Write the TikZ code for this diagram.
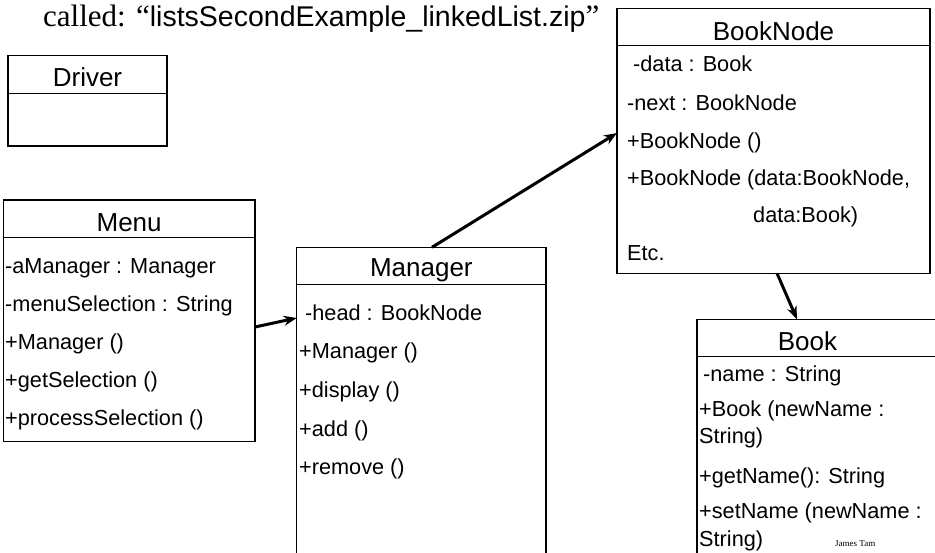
\documentclass[tikz,border=0pt]{standalone}
\usepackage{fontspec}
\setmainfont{Liberation Sans}
\newfontfamily\serifx{Liberation Serif}
\usetikzlibrary{arrows.meta}
\begin{document}
\begin{tikzpicture}[x=1pt,y=-1pt,
  cls/.style={draw, line width=1.1pt, inner sep=0, outer sep=0},
  ttl/.style={anchor=base, inner sep=0, font=\fontsize{26}{30}\selectfont},
  row/.style={anchor=base west, inner sep=0, font=\fontsize{21.7}{25}\selectfont},
  arr/.style={line width=3pt, -{Stealth[length=13pt,width=10pt]}},
  divl/.style={line width=1.1pt}
]
\useasboundingbox (0,0) rectangle (935,552);
\fill[white] (0,0) rectangle (935,552);

% title
\node[anchor=base west, inner sep=0, font=\fontsize{28.5}{34}\selectfont] (title) at (43,26)
  {{\serifx\fontsize{31}{36}\selectfont called: “}listsSecondExample\_linkedList.zip{\serifx\fontsize{31}{36}\selectfont ”}};

% boxes
\node[cls, minimum width=159pt, minimum height=90.3pt] (driver) at (87.5,100.85) {};
\node[cls, minimum width=251.7pt, minimum height=241.7pt] (menu) at (129.15,320.85) {};
\node[cls, minimum width=249.3pt, minimum height=312.7pt] (manager) at (421.35,403.65) {};
\node[cls, minimum width=313pt, minimum height=265pt] (booknode) at (773.5,140.8) {};
\node[cls, minimum width=253pt, minimum height=240.7pt] (book) at (823.5,439.65) {};

% dividers
\foreach \b in {driver,menu,manager,booknode,book}
  \draw[divl] ([yshift=-37.5pt]\b.north west) -- ([yshift=-37.5pt]\b.north east);

% titles
\node[ttl] (tdriver) at (87.5,86.7) {Driver};
\node[ttl] (tmenu) at (129.15,231.7) {Menu};
\node[ttl] (tmanager) at (421.35,276.7) {Manager};
\node[ttl] (tbooknode) at (773.5,40) {BookNode};
\node[ttl] (tbook) at (807.5,350) {Book};

% Menu rows
\node[row] (m1) at (5,273) {-aManager : Manager};
\node[row] (m2) at (5,311) {-menuSelection : String};
\node[row] (m3) at (5,349) {+Manager ()};
\node[row] (m4) at (5,387) {+getSelection ()};
\node[row] (m5) at (5,425) {+processSelection ()};

% Manager rows
\node[row] (g1) at (305,320) {-head : BookNode};
\node[row] (g2) at (299,358.7) {+Manager ()};
\node[row] (g3) at (299,397.4) {+display ()};
\node[row] (g4) at (299,436) {+add ()};
\node[row] (g5) at (299,474.8) {+remove ()};

% BookNode rows
\node[row] (b1) at (633,71.7) {-data : Book};
\node[row] (b2) at (627,110) {-next : BookNode};
\node[row] (b3) at (627,148) {+BookNode ()};
\node[row] (b4) at (627,185) {+BookNode (data:BookNode,};
\node[row] (b5) at (753,222) {data:Book)};
\node[row] (b6) at (627,260) {Etc.};

% Book rows
\node[row] (k1) at (703,381.7) {-name : String};
\node[row] (k2) at (699,416.7) {+Book (newName :};
\node[row] (k3) at (699,443.3) {String)};
\node[row] (k4) at (699,483) {+getName(): String};
\node[row] (k5) at (699,518) {+setName (newName :};
\node[row] (k6) at (699,546.7) {String)};

\node[anchor=base west, inner sep=0, font=\serifx\fontsize{9}{10}\selectfont] (author) at (835,546.7) {James Tam};

% connectors
\draw[arr] ([yshift=-6.15pt]menu.east) -- ([yshift=85.65pt]manager.west);
\draw[arr] ([xshift=10.65pt]manager.north) -- ([yshift=7.8pt]booknode.west);
\draw[arr] ([xshift=3.5pt]booknode.south) -- ([xshift=-26.5pt]book.north);
\end{tikzpicture}
\end{document}
